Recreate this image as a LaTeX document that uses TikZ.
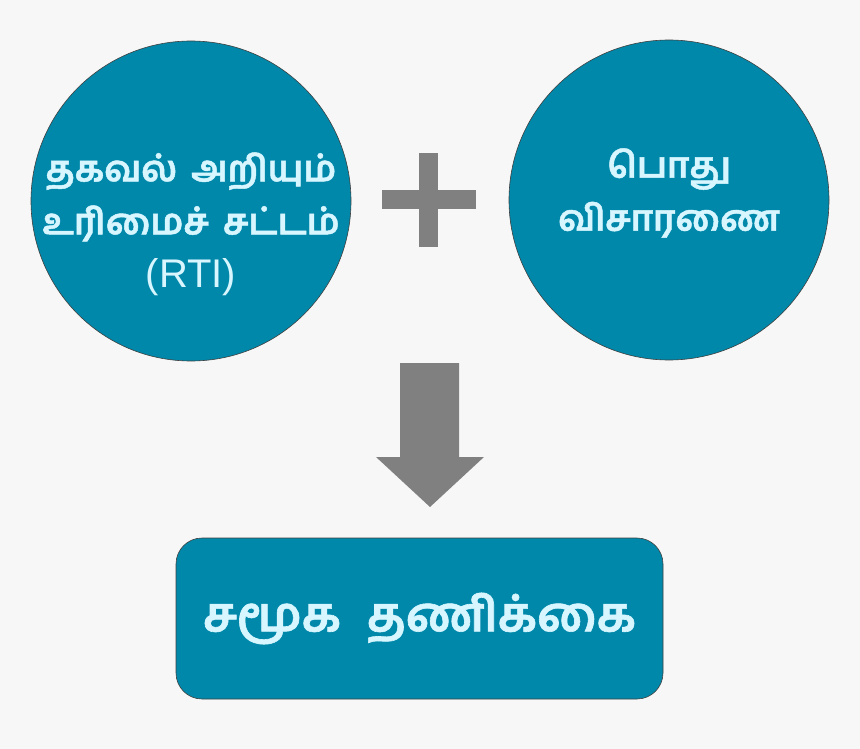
\documentclass[tikz,border=0pt]{standalone}
\usepackage{fontspec}
\setmainfont{Liberation Sans}
\newfontfamily\tamil[Script=Tamil, BoldFeatures={FakeBold=1.3}]{Hind Madurai}
\definecolor{bgpage}{HTML}{F7F7F7}
\definecolor{rtiblue}{HTML}{0088AA}
\definecolor{rtitext}{HTML}{D7F6FF}
\definecolor{signgray}{HTML}{808080}
\newcommand{\gap}{\hspace{14pt}}
\begin{document}
\begin{tikzpicture}[
x=1pt, y=-1pt,
bubble/.style={circle, draw=black!75, line width=0.6pt, fill=rtiblue, minimum size=320pt, inner sep=0pt},
words/.style={text=rtitext, align=center, font=\tamil\bfseries\fontsize{36}{53}\selectfont},
]
  \fill[bgpage] (0,0) rectangle (860,749);
  % the two circles
  \node[bubble] (rti) at (191,201) {};
  \node[words] (rtiname) at ([yshift=-23pt]rti.center)
    {தகவல்\gap அறியும்\\ உரிமைச்\gap சட்டம்\\ {\rmfamily\mdseries\fontsize{40}{53}\selectfont(RTI)}};
  \node[bubble] (inquiry) at (669,200) {};
  \node[words] (inquiryname) at ([yshift=7pt]inquiry.center) {பொது\\ விசாரணை};
  % plus sign
  \fill[signgray] (419,153) rectangle (438,247);
  \fill[signgray] (382,190) rectangle (476,209);
  % arrow down
  \fill[signgray] (400,363) -- (459,363) -- (459,457) -- (484,457) -- (430,507)
    -- (376,457) -- (400,457) -- cycle;
  % result box
  \node[rectangle, rounded corners=26pt, draw=black!75, line width=0.6pt, fill=rtiblue,
    minimum width=487pt, minimum height=161pt] (audit) at (419.5,618.5) {};
  \node[words, font=\tamil\bfseries\fontsize{48}{56}\selectfont] (auditname) at (audit.center) {சமூக\hspace{26pt}தணிக்கை};
\end{tikzpicture}
\end{document}
